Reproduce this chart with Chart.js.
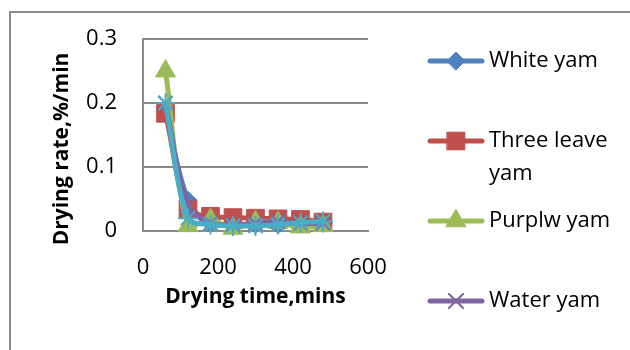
<!DOCTYPE html>
<html>
<head>
<meta charset="utf-8">
<script src="https://cdn.jsdelivr.net/npm/chart.js@4/dist/chart.umd.min.js"></script>
<style>
  html, body { margin: 0; padding: 0; background: #ffffff; }
  #wrap { width: 630px; height: 350px; }
</style>
</head>
<body>
<div id="wrap"><canvas id="chart" width="630" height="350"></canvas></div>
<script>
// Drying time (mins) for every sample
const dryingTimes = [60, 120, 180, 240, 300, 360, 420, 480];

// Drying rate (%/min) per yam variety
const whiteYam      = [0.190, 0.048, 0.012, 0.010, 0.010, 0.010, 0.011, 0.012];
const threeLeaveYam = [0.184, 0.034, 0.023, 0.021, 0.020, 0.019, 0.018, 0.014];
const purplwYam     = [0.250, 0.008, 0.018, 0.004, 0.014, 0.013, 0.006, 0.008];
const waterYam      = [0.200, 0.040, 0.012, 0.010, 0.012, 0.015, 0.012, 0.012];
const series5       = [0.200, 0.020, 0.010, 0.008, 0.008, 0.010, 0.013, 0.015];

const seriesNames = ['White yam', 'Three leave yam', 'Purplw yam', 'Water yam', 'Series5'];

// Axis tick values
const xTicks = [0, 200, 400, 600];
const yTicks = [0, 0.1, 0.2, 0.3];

const xTitle = 'Drying time,mins';
const yTitle = 'Drying rate,%/min';

const FONT = '"Open Sans", "Noto Sans", sans-serif';
const GRID = '#8a8a8a';

const styles = [
  { color: '#4F81BD', point: 'rectRot',  radius: 9,   border: 1 },
  { color: '#C0504D', point: 'rect',     radius: 12.5, border: 1 },
  { color: '#9BBB59', point: 'triangle', radius: 11.5, border: 1 },
  { color: '#8064A2', point: 'crossRot', radius: 10,  border: 2 },
  { color: '#4BACC6', point: 'star',     radius: 10,  border: 2 }
];

const seriesValues = [whiteYam, threeLeaveYam, purplwYam, waterYam, series5];

const datasets = seriesValues.map((vals, i) => ({
  label: seriesNames[i],
  data: dryingTimes.map((t, k) => ({ x: t, y: vals[k] })),
  borderColor: styles[i].color,
  backgroundColor: styles[i].color,
  borderWidth: 5,
  tension: 0.35,
  pointStyle: styles[i].point,
  pointRadius: styles[i].radius,
  pointBorderWidth: styles[i].border,
  pointBorderColor: styles[i].color,
  pointBackgroundColor: styles[i].color,
  clip: false,
  order: seriesValues.length - i
}));

// Draws a marker shape centred on (x, y)
function marker(ctx, style, x, y) {
  if (Chart.helpers && Chart.helpers.drawPoint) {
    ctx.save();
    ctx.fillStyle = style.color;
    ctx.strokeStyle = style.color;
    ctx.lineWidth = style.border;
    Chart.helpers.drawPoint(ctx, { pointStyle: style.point, radius: style.radius, borderWidth: style.border, rotation: 0 }, x, y);
    ctx.restore();
  }
}

// Outer frame, axis titles and side legend
const decorations = {
  id: 'decorations',
  beforeDraw(chart) {
    const ctx = chart.ctx;
    ctx.save();
    ctx.fillStyle = '#ffffff';
    ctx.fillRect(0, 0, chart.width, chart.height);
    ctx.strokeStyle = GRID;
    ctx.lineWidth = 2;
    ctx.beginPath();
    ctx.moveTo(10, chart.height + 2);
    ctx.lineTo(10, 12);
    ctx.lineTo(chart.width + 2, 12);
    ctx.stroke();
    ctx.restore();
  },
  afterDraw(chart) {
    const ctx = chart.ctx;
    const area = chart.chartArea;
    ctx.save();
    ctx.fillStyle = '#000000';

    // axis titles
    ctx.font = 'bold 21px ' + FONT;
    ctx.textAlign = 'center';
    ctx.textBaseline = 'alphabetic';
    ctx.fillText(xTitle, (area.left + area.right) / 2, 303);
    ctx.save();
    ctx.translate(68, 149);
    ctx.rotate(-Math.PI / 2);
    ctx.fillText(yTitle, 0, 0);
    ctx.restore();

    // legend
    ctx.font = '22px ' + FONT;
    ctx.textAlign = 'left';
    ctx.textBaseline = 'middle';
    const lineX0 = 430, lineX1 = 482, textX = 489, maxW = 136;
    chart.data.datasets.forEach((ds, i) => {
      const y = 61 + 80 * i;
      const st = styles[i];
      ctx.strokeStyle = st.color;
      ctx.lineWidth = 5;
      ctx.lineCap = 'round';
      ctx.beginPath();
      ctx.moveTo(lineX0, y);
      ctx.lineTo(lineX1, y);
      ctx.stroke();
      marker(ctx, st, (lineX0 + lineX1) / 2, y);

      const words = ds.label.split(' ');
      const lines = [];
      let cur = '';
      words.forEach(w => {
        const test = cur ? cur + ' ' + w : w;
        if (cur && ctx.measureText(test).width > maxW) { lines.push(cur); cur = w; }
        else cur = test;
      });
      if (cur) lines.push(cur);
      ctx.fillStyle = '#000000';
      lines.forEach((ln, k) => ctx.fillText(ln, textX, y + 33 * k));
    });
    ctx.restore();
  }
};

new Chart(document.getElementById('chart'), {
  type: 'line',
  data: { datasets },
  options: {
    responsive: false,
    animation: false,
    devicePixelRatio: 1,
    layout: { padding: { top: 39, right: 262, bottom: 0, left: 0 } },
    plugins: {
      legend: { display: false },
      tooltip: { enabled: false }
    },
    scales: {
      x: {
        type: 'linear',
        min: 0,
        max: 600,
        afterBuildTicks: s => { s.ticks = xTicks.map(v => ({ value: v })); },
        afterFit: s => { s.height = 119; },
        grid: { display: false, drawTicks: false },
        border: { display: true, color: GRID, width: 2 },
        ticks: {
          color: '#000000',
          font: { family: FONT, size: 22 },
          padding: 24,
          maxRotation: 0,
          callback: v => String(v)
        }
      },
      y: {
        type: 'linear',
        min: 0,
        max: 0.3,
        afterBuildTicks: s => { s.ticks = yTicks.map(v => ({ value: v })); },
        afterFit: s => { s.width = 143; },
        grid: { display: true, color: GRID, lineWidth: 2, drawTicks: false },
        border: { display: true, color: GRID, width: 2 },
        ticks: {
          color: '#000000',
          font: { family: FONT, size: 22 },
          padding: 26,
          callback: v => String(v)
        }
      }
    }
  },
  plugins: [decorations]
});
</script>
</body>
</html>
